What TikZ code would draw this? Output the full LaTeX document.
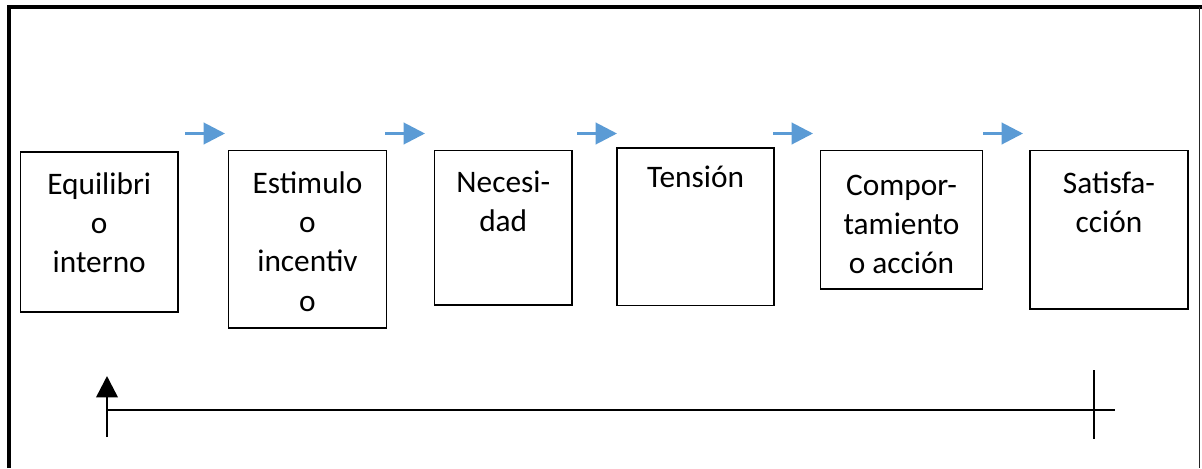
\documentclass[tikz,border=0pt]{standalone}
\usepackage{fontspec}
\setmainfont{Carlito}
\usetikzlibrary{arrows.meta,fit}
\definecolor{flowblue}{RGB}{91,155,213}

\begin{document}
\begin{tikzpicture}[
  x=0.75pt, y=-0.75pt,
  stage/.style={rectangle, draw, line width=1.2pt, inner sep=0pt},
  caption/.style={anchor=north, align=center, inner sep=0pt, font=\fontsize{23.5}{29.3}\selectfont},
  flow/.style={-{Triangle[length=16pt,width=16pt]}, line width=2.2pt, flowblue},
  axis/.style={line width=0.8pt}
]
  \useasboundingbox (0,0) rectangle (1202,468);

  % outer frame
  \draw[line width=3.4pt] (9,468) -- (9,7) -- (1202,7);
  \draw[line width=1.1pt, black!85] (1199.5,7) -- (1199.5,468);

  % stages
  \node[stage, fit={(20.5,152) (178,312)}] (equi) {};
  \node[stage, fit={(228.5,150.5) (386.5,328)}] (estim) {};
  \node[stage, fit={(434.5,150.5) (572,305)}] (neces) {};
  \node[stage, fit={(617,148) (774,305.5)}] (tens) {};
  \node[stage, fit={(820.5,150.5) (982.5,289)}] (comp) {};
  \node[stage, fit={(1030,150.5) (1188,309)}] (satis) {};

  \node[caption] (equi-t) at ([yshift=-16.2pt]equi.north) {Equilibri\\o\\interno};
  \node[caption] (estim-t) at ([yshift=-16.6pt]estim.north) {Estimulo\\o\\incentiv\\o};
  \node[caption] (neces-t) at ([yshift=-15.6pt]neces.north) {Necesi-\\dad};
  \node[caption] (tens-t) at ([yshift=-14pt]tens.north) {Tensión};
  \node[caption] (comp-t) at ([yshift=-19pt]comp.north) {Compor-\\tamiento\\o acción};
  \node[caption] (satis-t) at ([yshift=-16.6pt]satis.north) {Satisfa-\\cción};

  % blue arrows between stages
  \foreach \x [count=\i] in {185,385,577,773,983} {
    \coordinate (s\i) at (\x,133.5);
    \coordinate (e\i) at (\x+40,133.5);
    \draw[flow] (s\i) -- (e\i);
  }

  % bottom line
  \coordinate (up-start) at (107,437);
  \coordinate (up-end) at (107,376);
  \coordinate (base-start) at (107,410);
  \coordinate (base-end) at (1115,410);
  \coordinate (tick-top) at (1094,370);
  \coordinate (tick-bot) at (1094,439);
  \draw[-{Triangle[length=16pt,width=16pt]}, line width=1.9pt] (up-start) -- (up-end);
  \draw[axis] (base-start) -- (base-end);
  \draw[axis, line width=1pt] (tick-top) -- (tick-bot);
\end{tikzpicture}
\end{document}
